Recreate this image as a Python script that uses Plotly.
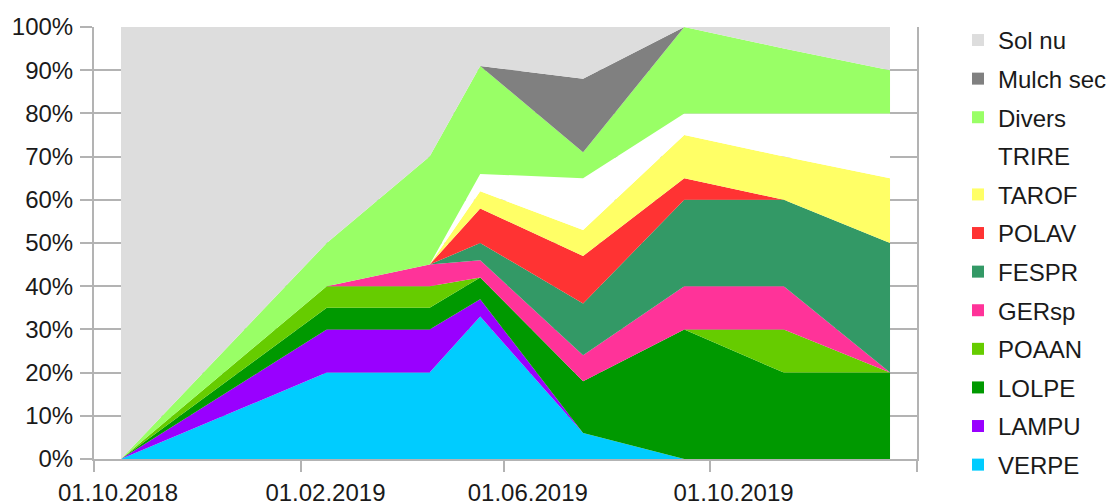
import plotly.graph_objects as go

dates = ["2018-10-17", "2019-02-16", "2019-04-18", "2019-05-18",
         "2019-07-18", "2019-09-16", "2019-11-14", "2020-01-16"]

VERPE = [0, 20, 20, 33, 6, 0, 0, 0]
LAMPU = [0, 10, 10, 4, 0, 0, 0, 0]
LOLPE = [0, 5, 5, 5, 12, 30, 20, 20]
POAAN = [0, 5, 5, 0, 0, 0, 10, 0]
GERsp = [0, 0, 5, 4, 6, 10, 10, 0]
FESPR = [0, 0, 0, 4, 12, 20, 20, 30]
POLAV = [0, 0, 0, 8, 11, 5, 0, 0]
TAROF = [0, 0, 0, 4, 6, 10, 10, 15]
TRIRE = [0, 0, 0, 4, 12, 5, 10, 15]
Divers = [0, 10, 25, 25, 6, 20, 15, 10]
Mulch_sec = [0, 0, 0, 0, 17, 0, 0, 0]
Sol_nu = [100, 50, 30, 9, 12, 0, 5, 10]

series = [
    ("VERPE", VERPE, "#00ccff"),
    ("LAMPU", LAMPU, "#9900ff"),
    ("LOLPE", LOLPE, "#009900"),
    ("POAAN", POAAN, "#66cc00"),
    ("GERsp", GERsp, "#ff3399"),
    ("FESPR", FESPR, "#339966"),
    ("POLAV", POLAV, "#ff3333"),
    ("TAROF", TAROF, "#ffff66"),
    ("TRIRE", TRIRE, "#ffffff"),
    ("Divers", Divers, "#99ff66"),
    ("Mulch sec", Mulch_sec, "#808080"),
    ("Sol nu", Sol_nu, "#dddddd"),
]

tick_dates = ["2018-10-01", "2019-02-01", "2019-06-01", "2019-10-01", "2020-02-01"]
tick_text = ["01.10.2018", "01.02.2019", "01.06.2019", "01.10.2019", ""]

FONT = "Arial, Liberation Sans, sans-serif"
GRID = "#b3b3b3"

fig = go.Figure()
for name, vals, col in series:
    fig.add_trace(go.Scatter(
        x=dates, y=[v / 100 for v in vals], name=name,
        stackgroup="one", mode="none", fillcolor=col,
        showlegend=False, hoverinfo="skip"))

# legend entries, top to bottom as in the reference
for name, vals, col in reversed(series):
    fig.add_trace(go.Scatter(
        x=[None], y=[None], name=name, mode="markers",
        marker=dict(symbol="square", size=15, color=col),
        legendgroup=name, showlegend=True))

fig.update_layout(
    width=1119, height=504,
    margin=dict(l=86, r=210, t=19, b=53, autoexpand=False),
    paper_bgcolor="white", plot_bgcolor="white",
    font=dict(family=FONT, size=24, color="#1a1a1a"),
    legend=dict(
        traceorder="grouped", tracegroupgap=4.4,
        x=1.0498, xanchor="left", y=1.021, yanchor="top",
        font=dict(size=24), itemsizing="constant", maxheight=700,
        bgcolor="rgba(0,0,0,0)"),
    xaxis=dict(
        type="date", range=["2018-10-01", "2020-02-01"],
        tickvals=tick_dates, ticktext=tick_text,
        ticks="outside", ticklen=11, tickwidth=2, tickcolor=GRID,
        showline=True, linecolor=GRID, linewidth=2,
        showgrid=False, zeroline=False, ticklabelshift=24),
    yaxis=dict(
        range=[0, 1], dtick=0.1, tickformat=".0%",
        ticks="outside", ticklen=12, tickwidth=2, tickcolor=GRID,
        showline=True, mirror=True, linecolor=GRID, linewidth=2,
        showgrid=True, gridcolor=GRID, gridwidth=2, zeroline=False,
        ticklabelstandoff=2),
)

fig.write_html("out.html")
